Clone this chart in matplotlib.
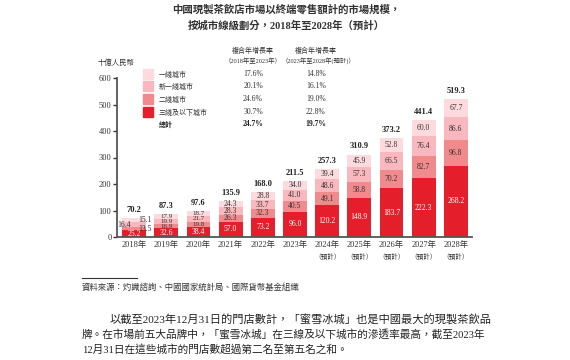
import matplotlib
matplotlib.use("Agg")
import matplotlib.pyplot as plt
import numpy as np

plt.rcParams['font.family'] = ['Liberation Serif', 'Noto Sans CJK TC', 'DejaVu Sans']

# 数据（十億人民幣）
years = ['2018年', '2019年', '2020年', '2021年', '2022年', '2023年',
         '2024年', '2025年', '2026年', '2027年', '2028年']
forecast = [False] * 6 + [True] * 5
tier3 = [25.2, 32.6, 38.4, 57.0, 73.2, 96.0, 120.2, 148.9, 183.7, 222.3, 268.2]
tier2 = [13.5, 16.9, 19.8, 26.3, 32.3, 40.5, 49.1, 58.8, 70.2, 82.7, 96.8]
newtier1 = [16.4, 19.9, 21.7, 28.3, 33.7, 41.0, 48.6, 57.3, 66.5, 76.4, 86.6]
tier1 = [15.1, 17.9, 18.7, 24.3, 28.8, 34.0, 39.4, 45.9, 52.8, 60.0, 67.7]
totals = [70.2, 87.3, 97.6, 135.9, 168.0, 211.5, 257.3, 310.9, 373.2, 441.4, 519.3]

legend_names = ['一綫城市', '新一綫城市', '二綫城市', '三綫及以下城市']
cagr_1823 = ['17.6%', '20.1%', '24.6%', '30.7%']
cagr_2328 = ['14.8%', '16.1%', '19.0%', '22.8%']
cagr_total = ['24.7%', '19.7%']

colors = ['#e41e2b', '#f18a8c', '#f8b8bd', '#fcdadd']  # 三綫 -> 一綫
W, H = 570, 360
txt = '#333333'


def fx(px):
    return px / W


def fy(py):
    return 1 - py / H


fig = plt.figure(figsize=(5.7, 3.6), dpi=100)
ax = fig.add_axes([fx(117), fy(237), fx(472) - fx(117), fy(78) - fy(237)])

x = np.arange(len(years))
series = [tier3, tier2, newtier1, tier1]
bottom = np.zeros(len(years))
for k, (vals, c) in enumerate(zip(series, colors)):
    vals = np.array(vals)
    ax.bar(x, vals, width=0.74, bottom=bottom, color=c, edgecolor='none')
    for i, v in enumerate(vals):
        dx = 0
        if i == 0 and k > 0:
            dx = -7 if k == 2 else 8
        fs = 5.5 if vals[i] > 22 or i == 0 else 5
        ax.annotate(f'{v:.1f}', (x[i], bottom[i] + v / 2), xytext=(dx, 0),
                    textcoords='offset points', ha='center', va='center',
                    fontsize=fs, color='white' if k == 0 else txt)
    bottom += vals

for i, t in enumerate(totals):
    ax.annotate(f'{t:.1f}', (x[i], bottom[i]), xytext=(0, 3),
                textcoords='offset points', ha='center', va='bottom',
                fontsize=6, fontweight='bold', color='#222222')

ax.set_xlim(-0.53, 10.5)
ax.set_ylim(0, 600)
ax.set_yticks(range(0, 601, 100))
ax.tick_params(axis='y', labelsize=6, length=3, width=1, colors=txt, pad=1)
ax.set_xticks(x)
ax.set_xticklabels(years, fontsize=6, color=txt)
ax.tick_params(axis='x', length=0, pad=3)
for i, f in enumerate(forecast):
    if f:
        ax.annotate('（預計）', (x[i], 0), xytext=(0, -11), textcoords='offset points',
                    ha='center', va='top', fontsize=4.8, color=txt)
for s in ['top', 'right']:
    ax.spines[s].set_visible(False)
for s in ['left', 'bottom']:
    ax.spines[s].set_color('#555555')
    ax.spines[s].set_linewidth(1.3)

# 标题
fig.text(fx(286), fy(10), '中國現製茶飲店市場以終端零售額計的市場規模，',
         ha='center', va='center', fontsize=7.5, fontweight='bold', color=txt)
fig.text(fx(286), fy(25), '按城市線級劃分，2018年至2028年（預計）',
         ha='center', va='center', fontsize=7.5, fontweight='bold', color=txt)
fig.text(fx(116), fy(62), '十億人民幣', ha='center', va='center', fontsize=5.3, color=txt)

# 图例与复合年增长率表
fig.text(fx(253), fy(50), '複合年增長率', ha='center', va='center', fontsize=5, color=txt)
fig.text(fx(253), fy(61), '（2018年至2023年）', ha='center', va='center', fontsize=4.6, color=txt)
fig.text(fx(316), fy(50), '複合年增長率', ha='center', va='center', fontsize=5, color=txt)
fig.text(fx(318), fy(61), '（2023年至2028年(預計)）', ha='center', va='center', fontsize=4.6, color=txt)
rows_y = [74, 86, 99, 112]
for j, name in enumerate(legend_names):
    yy = rows_y[j]
    fig.patches.append(plt.Rectangle((fx(143), fy(yy + 5)), fx(10), 10 / H,
                                     transform=fig.transFigure, color=colors[3 - j]))
    fig.text(fx(159), fy(yy), name, ha='left', va='center', fontsize=5, color=txt)
    fig.text(fx(253), fy(yy), cagr_1823[j], ha='center', va='center', fontsize=5.5, color=txt)
    fig.text(fx(316), fy(yy), cagr_2328[j], ha='center', va='center', fontsize=5.5, color=txt)
fig.text(fx(159), fy(124), '總計', ha='left', va='center', fontsize=5, fontweight='bold', color='#222222')
fig.text(fx(253), fy(124), cagr_total[0], ha='center', va='center', fontsize=5.5, fontweight='bold', color='#222222')
fig.text(fx(316), fy(124), cagr_total[1], ha='center', va='center', fontsize=5.5, fontweight='bold', color='#222222')

# 资料来源
fig.add_artist(plt.Line2D([fx(82), fx(137)], [fy(278), fy(278)], color=txt, lw=0.8))
fig.text(fx(82), fy(287), '資料來源：灼識諮詢、中國國家統計局、國際貨幣基金組織',
         ha='left', va='center', fontsize=6, color=txt)

# 正文
fig.text(fx(110), fy(319), '以截至2023年12月31日的門店數計，「蜜雪冰城」也是中國最大的現製茶飲品',
         ha='left', va='center', fontsize=8.1, color='#222222')
fig.text(fx(82), fy(334), '牌。在市場前五大品牌中，「蜜雪冰城」在三線及以下城市的滲透率最高，截至2023年',
         ha='left', va='center', fontsize=7.7, color='#222222')
fig.text(fx(82), fy(349), '12月31日在這些城市的門店數超過第二名至第五名之和。',
         ha='left', va='center', fontsize=7.7, color='#222222')

plt.savefig('out.png', dpi=100)
